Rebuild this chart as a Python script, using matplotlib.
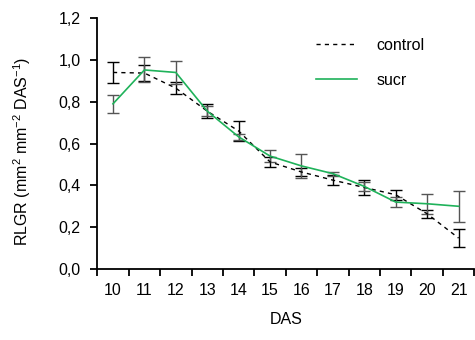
import numpy as np
import matplotlib
matplotlib.use("Agg")
import matplotlib.pyplot as plt

# Daten
das = [10, 11, 12, 13, 14, 15, 16, 17, 18, 19, 20, 21]
control = [0.94, 0.937, 0.865, 0.755, 0.66, 0.512, 0.464, 0.425, 0.39, 0.355, 0.264, 0.148]
control_err = [0.05, 0.037, 0.028, 0.034, 0.05, 0.025, 0.02, 0.025, 0.035, 0.025, 0.02, 0.044]
sucr = [0.79, 0.952, 0.94, 0.755, 0.632, 0.54, 0.493, 0.456, 0.395, 0.32, 0.312, 0.30]
sucr_err = [0.043, 0.06, 0.057, 0.025, 0.015, 0.03, 0.056, 0.01, 0.02, 0.025, 0.048, 0.075]
yticks = [0.0, 0.2, 0.4, 0.6, 0.8, 1.0, 1.2]

plt.rcParams['font.family'] = ['Liberation Sans', 'DejaVu Sans']
plt.rcParams['mathtext.fontset'] = 'custom'
plt.rcParams['mathtext.rm'] = 'Liberation Sans'
plt.rcParams['mathtext.it'] = 'Liberation Sans:italic'
plt.rcParams['mathtext.bf'] = 'Liberation Sans:bold'

fs = 11.5

fig = plt.figure(figsize=(4.75, 3.4), dpi=100)
ax = fig.add_axes([0.2048, 0.2088, 0.7937, 0.738])

ax.errorbar(das, control, yerr=control_err, fmt='none', ecolor='black',
            elinewidth=1.0, capsize=4.3, capthick=1.0)
ax.errorbar(das, sucr, yerr=sucr_err, fmt='none', ecolor='#555555',
            elinewidth=1.0, capsize=4.3, capthick=1.0)
ax.plot(das, control, color='black', linestyle=(0, (3, 3)), linewidth=1.0, label='control')
ax.plot(das, sucr, color='#1fb25a', linewidth=1.2, label='sucr')

ax.set_xlim(9.5, 21.5)
ax.set_ylim(0, 1.2)
ax.spines['top'].set_visible(False)
ax.spines['right'].set_visible(False)
ax.spines['left'].set_linewidth(1.3)
ax.spines['bottom'].set_linewidth(1.3)

# Teilstriche an den Kategoriegrenzen, Beschriftung in der Mitte
ax.set_xticks(np.arange(9.5, 22, 1.0))
ax.set_xticklabels([])
ax.set_xticks(das, minor=True)
ax.set_xticklabels([str(d) for d in das], minor=True)
ax.tick_params(axis='x', which='major', direction='out', length=5, width=1.3)
ax.tick_params(axis='x', which='minor', length=0, pad=10, labelsize=fs)

ax.set_yticks(yticks)
ax.set_yticklabels([f"{v:.1f}".replace('.', ',') for v in yticks])
ax.tick_params(axis='y', direction='out', length=5, width=1.3, pad=7, labelsize=fs)

ax.set_ylabel(r'RLGR (mm$^{2}$ mm$^{-2}$ DAS$^{-1}$)', fontsize=fs, va='center')
ax.yaxis.set_label_coords(-0.2, 0.47)
ax.set_xlabel('DAS', fontsize=fs, va='center')
ax.xaxis.set_label_coords(0.5, -0.203)

ax.legend(loc='upper left', bbox_to_anchor=(0.665, 0.888), bbox_transform=fig.transFigure,
          frameon=False, fontsize=fs, handlelength=2.6, handletextpad=1.2,
          labelspacing=1.25, borderpad=0, borderaxespad=0)

fig.savefig('out.png', dpi=100)
